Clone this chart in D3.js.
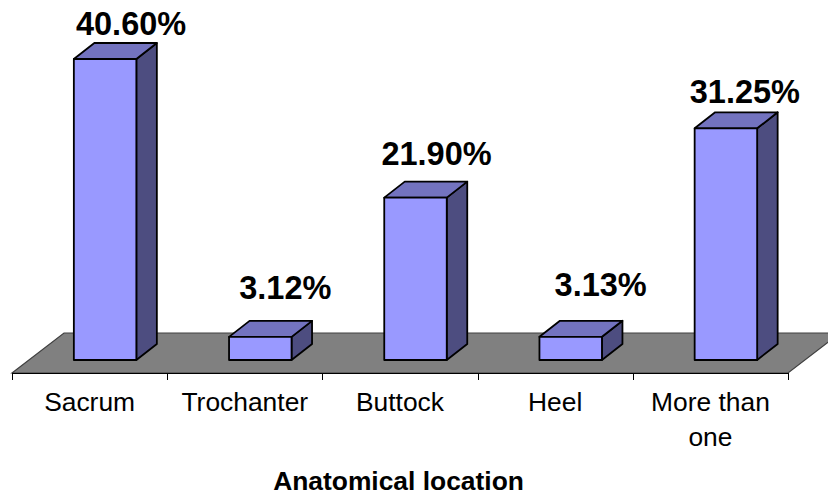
<!DOCTYPE html>
<html>
<head>
<meta charset="utf-8">
<script src="https://cdn.jsdelivr.net/npm/d3@7"></script>
<style>html,body{margin:0;padding:0;background:#fff}svg{display:block}text{font-family:"Liberation Sans",Arial,sans-serif;fill:#000}</style>
</head>
<body>
<svg id="c" width="828" height="497"></svg>
<script>
const categories = ["Sacrum", "Trochanter", "Buttock", "Heel", "More than one"];
const values = [40.60, 3.12, 21.90, 3.13, 31.25];
const valueLabels = ["40.60%", "3.12%", "21.90%", "3.13%", "31.25%"];
const axisTitle = "Anatomical location";

const svg = d3.select("#c");
const frontY = 373, backY = 333, baseY = 360;
const left = 12, right = 788, depthX = 52;
const barW = 62.5, barDX = 20.5, barDY = 16, barShift = 15.5;
const labelDX = [26, 25, 21, 30, 19], labelDY = [24, 38, 33, 41, 25];

const x = d3.scaleBand().domain(categories).range([left, right]).padding(0);
const y = d3.scaleLinear().domain([0, 40.6]).range([baseY, 59]);
const poly = p => d3.line()(p) + "Z";

svg.append("path")
  .attr("d", poly([[left, frontY], [left + depthX, backY], [right + depthX, backY], [right, frontY]]))
  .attr("fill", "#808080").attr("stroke", "#404040").attr("stroke-width", 1.2);

const axis = d3.axisBottom(x).tickSize(0).tickFormat("");
const axisG = svg.append("g").attr("transform", `translate(0,${frontY})`).call(axis);
axisG.select(".domain").attr("stroke", "#000").attr("stroke-width", 1).attr("d", `M${left},0.5H${right}`);
axisG.selectAll(".tick").remove();
const edges = categories.map(c => x(c)).concat([right]);
svg.selectAll("line.tk").data(edges).join("line").attr("class", "tk")
  .attr("x1", d => Math.round(d) + 0.5).attr("x2", d => Math.round(d) + 0.5)
  .attr("y1", frontY).attr("y2", frontY + 7).attr("stroke", "#000").attr("stroke-width", 1);

categories.forEach((c, i) => {
  const x0 = x(c) + x.bandwidth() / 2 + barShift - barW / 2, x1 = x0 + barW;
  const t = y(values[i]);
  const g = svg.append("g").attr("stroke", "#000").attr("stroke-width", 1.8).attr("stroke-linejoin", "round");
  g.append("path").attr("fill", "#4D4D80")
    .attr("d", poly([[x1, t], [x1 + barDX, t - barDY], [x1 + barDX, baseY - barDY], [x1, baseY]]));
  g.append("path").attr("fill", "#7373BF")
    .attr("d", poly([[x0, t], [x0 + barDX, t - barDY], [x1 + barDX, t - barDY], [x1, t]]));
  g.append("path").attr("fill", "#9999FF")
    .attr("d", poly([[x0, t], [x1, t], [x1, baseY], [x0, baseY]]));
  svg.append("text").attr("x", x0 + barW / 2 + labelDX[i]).attr("y", t - labelDY[i])
    .attr("text-anchor", "middle").attr("font-size", 32.5).attr("font-weight", "bold")
    .text(valueLabels[i]);
});

categories.forEach(c => {
  const cx = x(c) + x.bandwidth() / 2;
  const lines = c === "More than one" ? ["More than", "one"] : [c];
  lines.forEach((l, j) => svg.append("text").attr("x", cx).attr("y", 411 + j * 35)
    .attr("text-anchor", "middle").attr("font-size", 26.4).text(l));
});

svg.append("text").attr("x", 398.5).attr("y", 490).attr("text-anchor", "middle")
  .attr("font-size", 26.4).attr("font-weight", "bold").text(axisTitle);
</script>
</body>
</html>
